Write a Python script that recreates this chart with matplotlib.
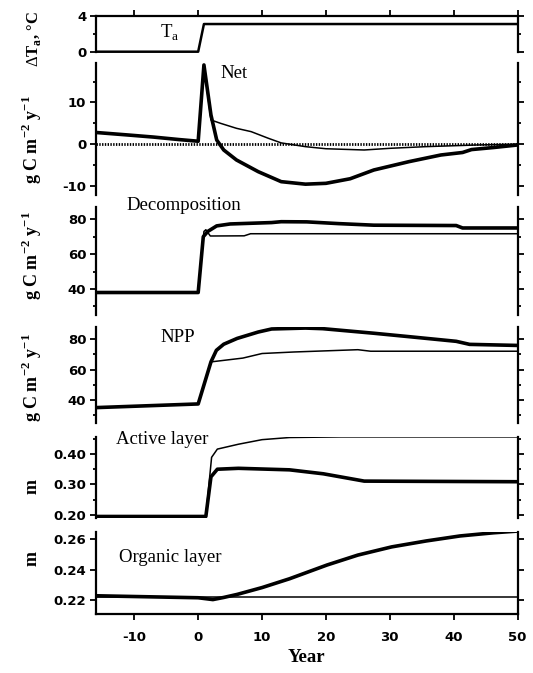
import matplotlib
matplotlib.use("Agg")
import matplotlib.pyplot as plt
from matplotlib.ticker import FixedLocator, FormatStrFormatter
from matplotlib.font_manager import FontProperties

plt.rcParams['mathtext.fontset'] = 'custom'
plt.rcParams['mathtext.rm'] = 'Liberation Serif'
plt.rcParams['axes.unicode_minus'] = False

# ---------------- data ----------------
ta_year = [-16, 0, 0.9, 50]
ta_val = [0, 0, 3.1, 3.1]

net_thick_year = [-16, -11, -7, -3, 0, 0.9, 2, 2.9, 4, 6, 9.4, 13, 16.8, 20, 23.8, 27.5, 33, 38, 41.4, 42.8, 46.3, 50]
net_thick_val = [2.8, 2.2, 1.7, 1.1, 0.7, 19.0, 7.0, 1.0, -1.4, -3.8, -6.6, -9.0, -9.6, -9.4, -8.3, -6.2, -4.2, -2.6, -2.0, -1.3, -0.8, -0.2]
net_thin_year = [-16, -11, -7, -3, 0, 0.9, 2, 3.5, 6, 8.3, 11, 13, 16.8, 20, 26, 30, 35.6, 43.6, 50]
net_thin_val = [2.8, 2.2, 1.7, 1.1, 0.7, 19.0, 5.8, 5.0, 3.8, 3.0, 1.4, 0.3, -0.6, -1.1, -1.4, -1.0, -0.6, -0.2, 0.0]

dec_thick_year = [-16, 0, 0.8, 1.5, 2.9, 5, 11.5, 13, 17, 22, 27.5, 40.4, 41.4, 50]
dec_thick_val = [38, 38, 70, 73, 76.2, 77.3, 78.1, 78.6, 78.5, 77.5, 76.6, 76.4, 75.0, 75.0]
dec_thin_year = [-16, 0, 0.9, 1.2, 1.9, 7.2, 8.2, 50]
dec_thin_val = [38, 38, 73, 74, 70.4, 70.5, 71.7, 71.7]

npp_thick_year = [-16, 0, 2, 2.85, 4, 6.1, 9.4, 11.5, 16.8, 19.5, 27.5, 32.9, 40.4, 42.5, 50]
npp_thick_val = [35, 37.4, 65, 72.6, 76.6, 80.4, 84.6, 86.6, 87.2, 86.8, 83.8, 81.6, 78.5, 76.5, 75.8]
npp_thin_year = [-16, 0, 2, 7, 10, 15, 25, 27, 50]
npp_thin_val = [35, 37.4, 65, 67.5, 70.5, 71.5, 73, 72, 72]

act_thick_year = [-16, 1.2, 2.0, 3, 6.3, 14.3, 19.6, 26, 50]
act_thick_val = [0.195, 0.195, 0.325, 0.350, 0.353, 0.348, 0.335, 0.311, 0.309]
act_thin_year = [-16, 1.2, 2.1, 3.0, 6.3, 10, 14.3, 22.3, 50]
act_thin_val = [0.195, 0.195, 0.389, 0.416, 0.432, 0.447, 0.454, 0.456, 0.456]

org_thick_year = [-16, 0, 2.3, 4, 6.1, 10, 14.3, 20.2, 25, 30.3, 35.7, 41, 46.3, 50]
org_thick_val = [0.2228, 0.2215, 0.2203, 0.2217, 0.2237, 0.2282, 0.234, 0.2431, 0.2496, 0.255, 0.2589, 0.2622, 0.2643, 0.2654]
org_thin_year = [-16, 50]
org_thin_val = [0.222, 0.222]

xticks = [-10, 0, 10, 20, 30, 40, 50]

# ---------------- layout ----------------
W, H = 533, 673
fig = plt.figure(figsize=(W / 100, H / 100), dpi=100)
L, R = 96 / W, 517.5 / W


def add(top, bottom):
    return fig.add_axes([L, 1 - bottom / H, R - L, (bottom - top) / H])


THICK, THIN = 2.6, 1.1
SANS = dict(family='DejaVu Sans', weight='bold', size=9.5)


def style(ax, first=False, last=False):
    ax.set_xlim(-16, 50)
    for s in ['left', 'right', 'top', 'bottom']:
        ax.spines[s].set_linewidth(1.6)
    ax.spines['top'].set_visible(first)
    ax.spines['bottom'].set_visible(last)
    ax.tick_params(axis='y', which='both', direction='out', left=True, right=True,
                   labelright=False, width=1.3, pad=3)
    ax.tick_params(axis='y', which='major', length=4)
    ax.tick_params(axis='y', which='minor', length=2.5)
    ax.xaxis.set_major_locator(FixedLocator(xticks))
    ax.tick_params(axis='x', which='both', direction='out', top=first, bottom=last,
                   labeltop=False, labelbottom=last, width=1.3, length=4, pad=8)
    ax.xaxis.set_minor_locator(FixedLocator([]))
    for lab in ax.get_yticklabels() + ax.get_xticklabels():
        lab.set_fontproperties(FontProperties(**SANS))
    ax.patch.set_alpha(0)


# Ta panel
ax1 = add(16, 51.7)
ax1.plot(ta_year, ta_val, color='k', lw=1.8, clip_on=False, solid_capstyle='butt')
ax1.set_ylim(0, 4)
ax1.yaxis.set_major_locator(FixedLocator([0, 4]))
ax1.yaxis.set_minor_locator(FixedLocator([2]))
style(ax1, first=True)

# Net panel
ax2 = add(63.3, 195)
ax2.axhline(0, color='k', lw=2.0, ls=(0, (0.5, 0.5)))
ax2.plot(net_thin_year, net_thin_val, color='k', lw=THIN)
ax2.plot(net_thick_year, net_thick_val, color='k', lw=THICK)
ax2.set_ylim(-12.2, 19.4)
ax2.yaxis.set_major_locator(FixedLocator([-10, 0, 10]))
ax2.yaxis.set_minor_locator(FixedLocator([-5, 5, 15]))
style(ax2)

# Decomposition
ax3 = add(206.7, 315)
ax3.plot(dec_thin_year, dec_thin_val, color='k', lw=THIN)
ax3.plot(dec_thick_year, dec_thick_val, color='k', lw=THICK)
ax3.set_ylim(25.1, 87.2)
ax3.yaxis.set_major_locator(FixedLocator([40, 60, 80]))
ax3.yaxis.set_minor_locator(FixedLocator([30, 50, 70]))
style(ax3)

# NPP
ax4 = add(327.3, 423)
ax4.plot(npp_thin_year, npp_thin_val, color='k', lw=THIN)
ax4.plot(npp_thick_year, npp_thick_val, color='k', lw=THICK)
ax4.set_ylim(24.9, 87.7)
ax4.yaxis.set_major_locator(FixedLocator([40, 60, 80]))
ax4.yaxis.set_minor_locator(FixedLocator([30, 50, 70]))
style(ax4)

# Active layer
ax5 = add(436.7, 518)
ax5.plot(act_thin_year, act_thin_val, color='k', lw=THIN)
ax5.plot(act_thick_year, act_thick_val, color='k', lw=THICK)
ax5.set_ylim(0.190, 0.4567)
ax5.yaxis.set_major_locator(FixedLocator([0.20, 0.30, 0.40]))
ax5.yaxis.set_minor_locator(FixedLocator([0.25, 0.35, 0.45]))
ax5.yaxis.set_major_formatter(FormatStrFormatter('%.2f'))
style(ax5)

# Organic layer
ax6 = add(531.7, 614)
ax6.plot(org_thin_year, org_thin_val, color='k', lw=THIN)
ax6.plot(org_thick_year, org_thick_val, color='k', lw=THICK)
ax6.set_ylim(0.2108, 0.2650)
ax6.yaxis.set_major_locator(FixedLocator([0.22, 0.24, 0.26]))
ax6.yaxis.set_major_formatter(FormatStrFormatter('%.2f'))
style(ax6, last=True)


def ftext(x, y, s, **kw):
    fig.text(x / W, 1 - y / H, s, ha='center', va='center', **kw)


SERIF = dict(family='Liberation Serif', size=13.5)
ftext(170, 33, r'T$_\mathregular{a}$', **SERIF)
ftext(234, 74, 'Net', **SERIF)
ftext(184, 205, 'Decomposition', **SERIF)
ftext(178, 337, 'NPP', **SERIF)
ftext(162, 439, 'Active layer', **SERIF)
ftext(170, 558, 'Organic layer', **SERIF)

YL = dict(family='Liberation Serif', weight='bold', size=13, rotation=90)
ftext(34, 39, r'$\Delta$T$_\mathregular{a}$, °C', family='Liberation Serif',
      weight='bold', size=12, rotation=90)
unit = r'g C m$^\mathregular{-2}$ y$^\mathregular{-1}$'
ftext(32, 140, unit, **YL)
ftext(32, 256, unit, **YL)
ftext(32, 378, unit, **YL)
ftext(32, 486, 'm', **YL)
ftext(32, 558, 'm', **YL)

ftext(306, 658, 'Year', family='Liberation Serif', weight='bold', size=13.5)

fig.savefig('out.png', dpi=100)
